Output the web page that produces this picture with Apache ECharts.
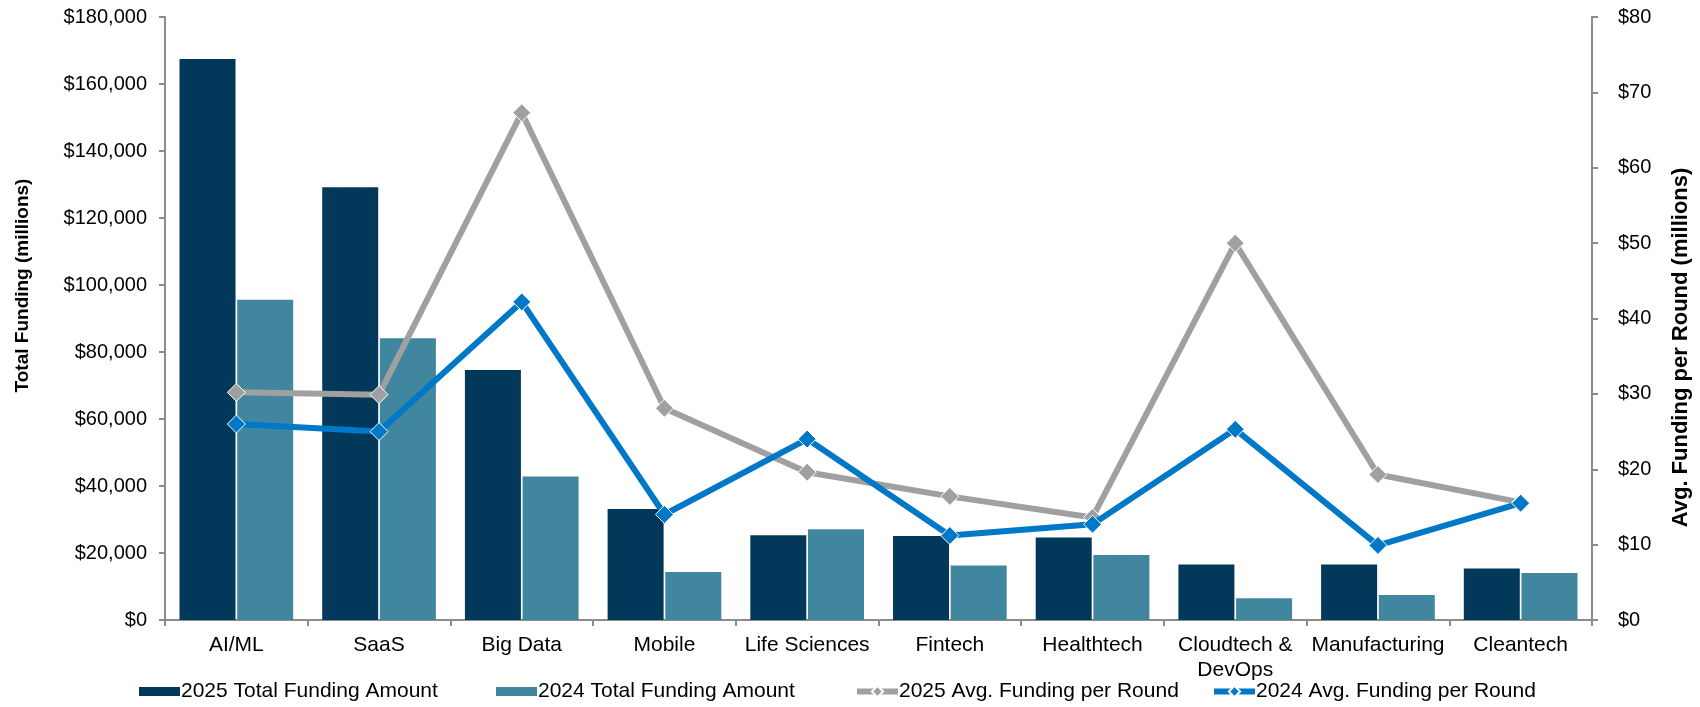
<!DOCTYPE html>
<html>
<head>
<meta charset="utf-8">
<script src="https://cdn.jsdelivr.net/npm/echarts@6/dist/echarts.min.js"></script>
<style>
html,body{margin:0;padding:0;background:#fff;}
#chart{width:1700px;height:707px;}
</style>
</head>
<body>
<div id="chart"></div>
<script>
const categories = ['AI/ML','SaaS','Big Data','Mobile','Life Sciences','Fintech','Healthtech','Cloudtech &\nDevOps','Manufacturing','Cleantech'];
const funding2025 = [167500, 129200, 74600, 33100, 25300, 25100, 24600, 16600, 16600, 15400];
const funding2024 = [95600, 84100, 42800, 14300, 27100, 16300, 19400, 6500, 7500, 14000];
const avg2025 = [30.2, 29.9, 67.3, 28.1, 19.6, 16.4, 13.6, 50.0, 19.3, 15.6];
const avg2024 = [26.0, 25.0, 42.2, 14.0, 24.0, 11.2, 12.7, 25.3, 9.9, 15.5];
const seriesNames = ['2025 Total Funding Amount','2024 Total Funding Amount','2025 Avg. Funding per Round','2024 Avg. Funding per Round'];
const leftAxisName = 'Total Funding (millions)';
const rightAxisName = 'Avg. Funding per Round (millions)';

const FONT = 'Liberation Sans, Arial, sans-serif';
const axisGray = '#8c8c8c';
const colors = ['#02395A', '#40869F', '#A0A0A0', '#0078C8'];
const legendLefts = [139, 496, 854, 1211];

const legends = seriesNames.map((n, i) => ({
  left: legendLefts[i], top: 681, padding: 0, itemWidth: 41, itemHeight: i < 2 ? 9 : 14,
  textStyle: {fontFamily: FONT, fontSize: 21, color: '#000', padding: [0, 0, 0, -4]},
  itemGap: 5,
  lineStyle: {width: 6},
  data: [i < 2 ? {name: n, icon: 'rect'} : {name: n}]
}));

const chart = echarts.init(document.getElementById('chart'));
chart.setOption({
  animation: false,
  textStyle: {fontFamily: FONT},
  grid: {left: 165, right: 106, top: 17, bottom: 87, containLabel: false},
  legend: legends,
  xAxis: {
    type: 'category', data: categories,
    axisLine: {lineStyle: {color: axisGray, width: 2}},
    axisTick: {show: true, length: 6, lineStyle: {color: axisGray, width: 2}},
    axisLabel: {fontFamily: FONT, fontSize: 21, color: '#000', margin: 13, interval: 0, lineHeight: 25}
  },
  yAxis: [
    {
      type: 'value', min: 0, max: 180000, interval: 20000,
      name: leftAxisName, nameLocation: 'middle', nameGap: 133, nameRotate: 90,
      nameTextStyle: {fontFamily: FONT, fontSize: 19, fontWeight: 'bold', color: '#000', padding: [0, 0, 0, 66]},
      axisLine: {show: true, lineStyle: {color: axisGray, width: 2}},
      axisTick: {show: true, length: 6, lineStyle: {color: axisGray, width: 2}},
      splitLine: {show: false},
      axisLabel: {fontFamily: FONT, fontSize: 20, color: '#000', margin: 18,
        formatter: v => '$' + v.toLocaleString('en-US')}
    },
    {
      type: 'value', min: 0, max: 80, interval: 10, position: 'right',
      name: rightAxisName, nameLocation: 'middle', nameGap: 78, nameRotate: 90,
      nameTextStyle: {fontFamily: FONT, fontSize: 22, fontWeight: 'bold', color: '#000', padding: [0, 58, 0, 0]},
      axisLine: {show: true, lineStyle: {color: axisGray, width: 2}},
      axisTick: {show: true, length: 6, lineStyle: {color: axisGray, width: 2}},
      splitLine: {show: false},
      axisLabel: {fontFamily: FONT, fontSize: 20, color: '#000', margin: 26,
        formatter: v => '$' + v}
    }
  ],
  series: [
    {name: seriesNames[0], type: 'bar', data: funding2025, barWidth: 56, barGap: '3%',
     itemStyle: {color: colors[0]}},
    {name: seriesNames[1], type: 'bar', data: funding2024, barWidth: 56, barGap: '3%',
     itemStyle: {color: colors[1]}},
    {name: seriesNames[2], type: 'line', yAxisIndex: 1, data: avg2025,
     symbol: 'diamond', symbolSize: 18,
     lineStyle: {color: colors[2], width: 6},
     itemStyle: {color: colors[2], borderColor: '#fff', borderWidth: 1}, z: 3},
    {name: seriesNames[3], type: 'line', yAxisIndex: 1, data: avg2024,
     symbol: 'diamond', symbolSize: 18,
     lineStyle: {color: colors[3], width: 6},
     itemStyle: {color: colors[3], borderColor: '#fff', borderWidth: 1}, z: 4}
  ]
});
</script>
</body>
</html>
